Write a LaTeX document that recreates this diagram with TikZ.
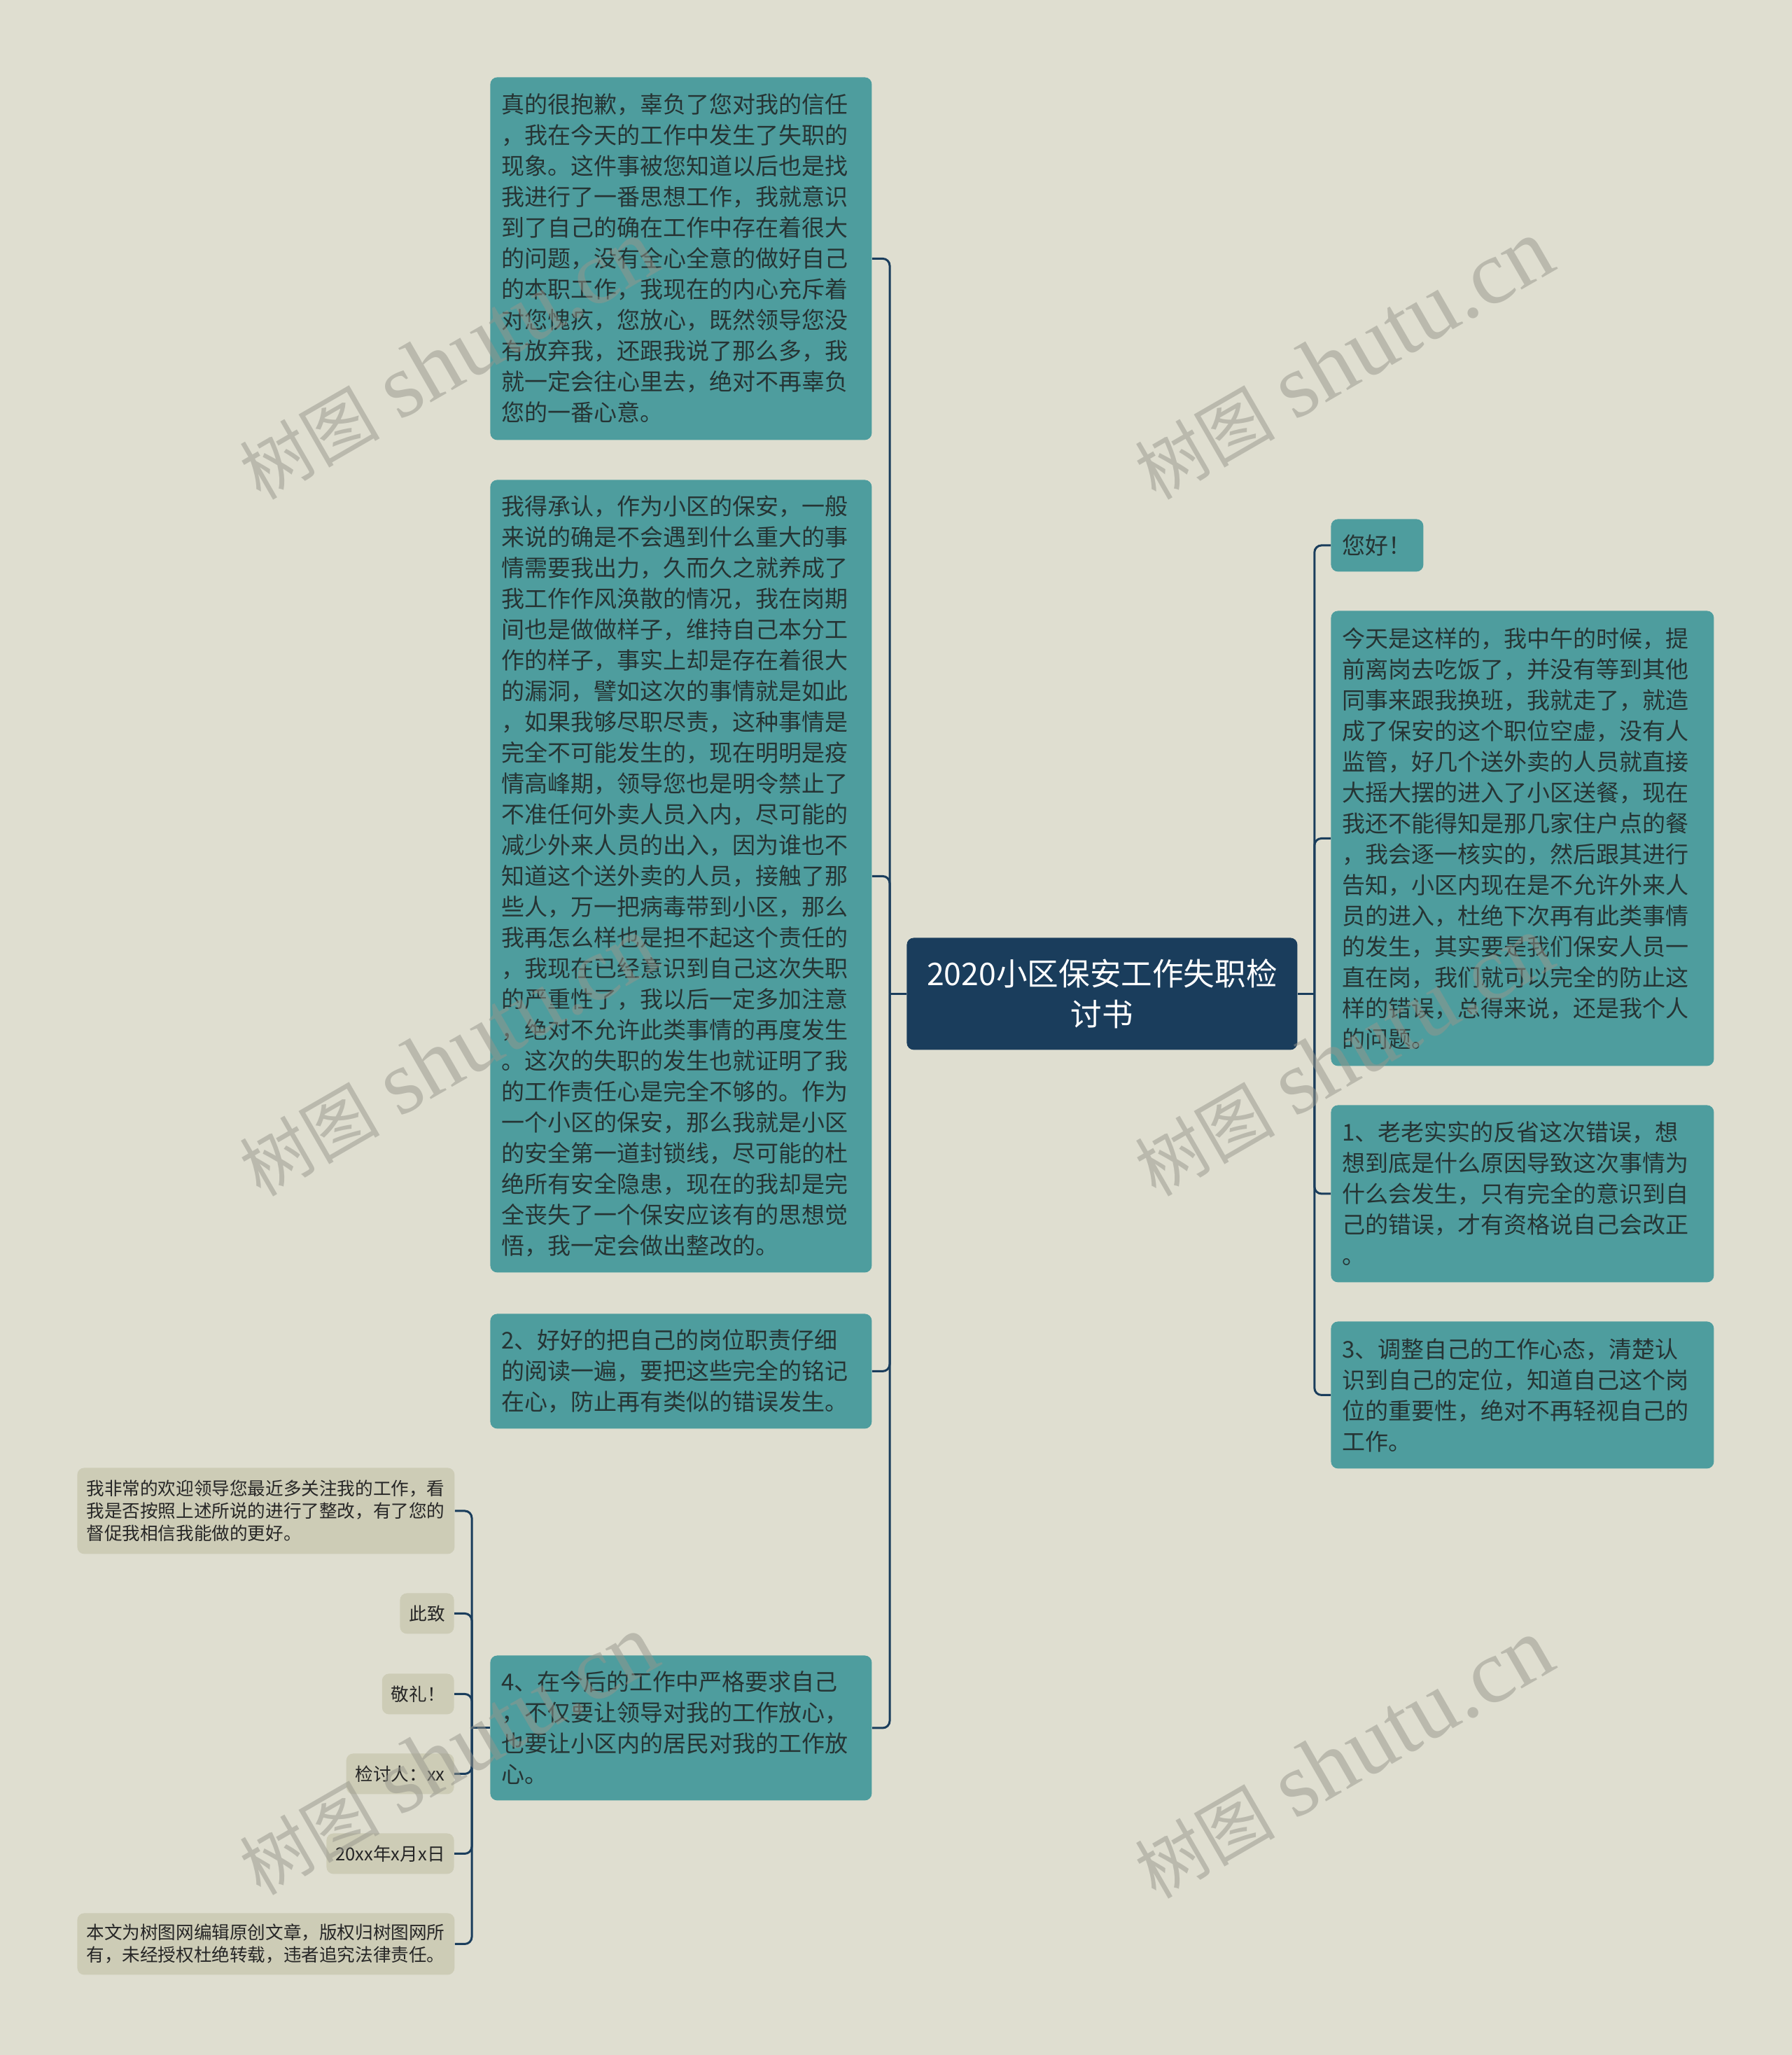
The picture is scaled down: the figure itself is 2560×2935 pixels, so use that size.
\documentclass[tikz,border=0pt]{standalone}
\usepackage{fontspec}
\setmainfont{Noto Sans CJK SC}
\newfontfamily\wmlatin{Liberation Serif}
\newfontfamily\wmcjk{Noto Sans CJK SC}
\definecolor{bgc}{RGB}{223,222,208}
\definecolor{tealc}{RGB}{78,157,158}
\definecolor{navy}{RGB}{26,61,92}
\definecolor{beige}{RGB}{205,204,182}
\definecolor{txt}{RGB}{38,52,52}
\definecolor{wm}{RGB}{150,150,140}
\tikzset{
  tealbox/.style={rectangle, rounded corners=5pt, fill=tealc, text=txt, anchor=north west,
    align=left, inner xsep=8pt, inner ysep=0pt, font=\fontsize{16.5pt}{22pt}\selectfont},
  beigebox/.style={rectangle, rounded corners=5pt, fill=beige, text=black!85,
    align=left, inner xsep=6.5pt, inner ysep=0pt, font=\fontsize{12.8pt}{16pt}\selectfont},
  rootbox/.style={rectangle, rounded corners=5pt, fill=navy, text=white, anchor=north west,
    align=center, inner xsep=10pt, inner ysep=0pt, font=\fontsize{22.3pt}{29pt}\selectfont},
  conn/.style={draw=navy, line width=1.5pt},
  elbow/.style={conn, rounded corners=5pt},
  wmark/.style={text=wm, text opacity=0.5, rotate=30, inner sep=0pt}
}
\begin{document}
\begin{tikzpicture}[x=0.5pt,y=-0.5pt]
\fill[bgc] (0,0) rectangle (2560,2935);
\useasboundingbox (0,0) rectangle (2560,2935);

% root
\node[rootbox, minimum width=279pt, minimum height=80pt, text width=259pt] (root) at (1295,1339)
  {2020小区保安工作失职检\\讨书};

% left column
\node[tealbox, text width=256.5pt, minimum height=259pt] (A) at (700,110)
  {真的很抱歉，辜负了您对我的信任\\，我在今天的工作中发生了失职的\\现象。这件事被您知道以后也是找\\我进行了一番思想工作，我就意识\\到了自己的确在工作中存在着很大\\的问题，没有全心全意的做好自己\\的本职工作，我现在的内心充斥着\\对您愧疚，您放心，既然领导您没\\有放弃我，还跟我说了那么多，我\\就一定会往心里去，绝对不再辜负\\您的一番心意。};
\node[tealbox, text width=256.5pt, minimum height=566pt] (B) at (700,685)
  {我得承认，作为小区的保安，一般\\来说的确是不会遇到什么重大的事\\情需要我出力，久而久之就养成了\\我工作作风涣散的情况，我在岗期\\间也是做做样子，维持自己本分工\\作的样子，事实上却是存在着很大\\的漏洞，譬如这次的事情就是如此\\，如果我够尽职尽责，这种事情是\\完全不可能发生的，现在明明是疫\\情高峰期，领导您也是明令禁止了\\不准任何外卖人员入内，尽可能的\\减少外来人员的出入，因为谁也不\\知道这个送外卖的人员，接触了那\\些人，万一把病毒带到小区，那么\\我再怎么样也是担不起这个责任的\\，我现在已经意识到自己这次失职\\的严重性了，我以后一定多加注意\\，绝对不允许此类事情的再度发生\\。这次的失职的发生也就证明了我\\的工作责任心是完全不够的。作为\\一个小区的保安，那么我就是小区\\的安全第一道封锁线，尽可能的杜\\绝所有安全隐患，现在的我却是完\\全丧失了一个保安应该有的思想觉\\悟，我一定会做出整改的。};
\node[tealbox, text width=256.5pt, minimum height=82pt] (C) at (700,1876)
  {2、好好的把自己的岗位职责仔细\\的阅读一遍，要把这些完全的铭记\\在心，防止再有类似的错误发生。};
\node[tealbox, text width=256.5pt, minimum height=103.5pt] (D) at (700,2364)
  {4、在今后的工作中严格要求自己\\，不仅要让领导对我的工作放心，\\也要让小区内的居民对我的工作放\\心。};

% right column
\node[tealbox, text width=50pt, minimum height=37.5pt] (hi) at (1901,741) {您好！};
\node[tealbox, text width=257.5pt, minimum height=325pt] (E) at (1901,872)
  {今天是这样的，我中午的时候，提\\前离岗去吃饭了，并没有等到其他\\同事来跟我换班，我就走了，就造\\成了保安的这个职位空虚，没有人\\监管，好几个送外卖的人员就直接\\大摇大摆的进入了小区送餐，现在\\我还不能得知是那几家住户点的餐\\，我会逐一核实的，然后跟其进行\\告知，小区内现在是不允许外来人\\员的进入，杜绝下次再有此类事情\\的发生，其实要是我们保安人员一\\直在岗，我们就可以完全的防止这\\样的错误，总得来说，还是我个人\\的问题。};
\node[tealbox, text width=257.5pt, minimum height=126.5pt] (F) at (1901,1578)
  {1、老老实实的反省这次错误，想\\想到底是什么原因导致这次事情为\\什么会发生，只有完全的意识到自\\己的错误，才有资格说自己会改正\\。};
\node[tealbox, text width=257.5pt, minimum height=105pt] (G) at (1901,1887)
  {3、调整自己的工作心态，清楚认\\识到自己的定位，知道自己这个岗\\位的重要性，绝对不再轻视自己的\\工作。};

% bottom-left leaves
\node[beigebox, anchor=north west, text width=256.5pt, minimum height=61.5pt] (H1) at (110,2096)
  {我非常的欢迎领导您最近多关注我的工作，看\\我是否按照上述所说的进行了整改，有了您的\\督促我相信我能做的更好。};
\node[beigebox, anchor=north east, minimum height=29pt] (H2) at (649,2275) {此致};
\node[beigebox, anchor=north east, minimum height=29pt] (H3) at (649,2390) {敬礼！};
\node[beigebox, anchor=north east, minimum height=29pt] (H4) at (649,2504) {检讨人：xx};
\node[beigebox, anchor=north east, minimum height=29pt] (H5) at (649,2618) {20xx年x月x日};
\node[beigebox, anchor=north west, text width=256.5pt, minimum height=44pt] (H6) at (110,2732)
  {本文为树图网编辑原创文章，版权归树图网所\\有，未经授权杜绝转载，违者追究法律责任。};

% connectors
\coordinate (LJ) at ([xshift=-12pt]root.west);
\coordinate (RJ) at ([xshift=12pt]root.east);
\coordinate (DJ) at ([xshift=-13pt]D.west);
\draw[conn] (root.west) -- (LJ);
\draw[conn] (root.east) -- (RJ);
\foreach \n in {A,B,C,D} \draw[elbow] (LJ) |- (\n.east);
\foreach \n in {hi,E,F,G} \draw[elbow] (RJ) |- (\n.west);
\draw[conn] (D.west) -- (DJ);
\foreach \n in {H1,H2,H3,H4,H5,H6} \draw[elbow] (DJ) |- (\n.east);

% watermarks
\foreach \p/\nm in {{(640,514)}/w1,{(1919,514)}/w2,{(640,1509)}/w3,{(1919,1509)}/w4,{(640,2507)}/w5,{(1919,2512)}/w6}
  \node[wmark] (\nm) at \p {{\wmcjk\fontsize{50pt}{50pt}\selectfont 树图}\hspace{14pt}{\wmlatin\fontsize{65pt}{65pt}\selectfont shutu.cn}};
\end{tikzpicture}
\end{document}
